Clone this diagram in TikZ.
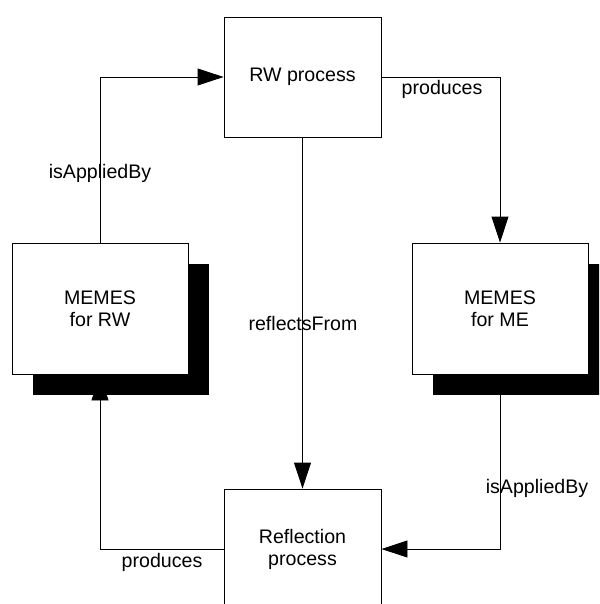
\documentclass[tikz,border=0pt]{standalone}
\usepackage{fontspec}
\setmainfont{Liberation Sans}
\usetikzlibrary{arrows.meta,shadows,backgrounds}

\tikzset{
  box/.style={draw=black, line width=0.9pt, fill=white, rectangle,
    align=center, inner sep=0pt,
    font=\fontsize{19.6}{22}\selectfont},
  procbox/.style={box, minimum width=157pt, minimum height=120pt},
  memebox/.style={box, minimum width=176pt, minimum height=131pt,
    drop shadow={shadow xshift=21pt, shadow yshift=-21pt,
      fill=black, opacity=1}},
  conn/.style={draw=black, line width=0.9pt,
    -{Triangle[length=26pt,width=17pt]}},
  lbl/.style={anchor=base, inner sep=0pt,
    font=\fontsize{19.6}{22}\selectfont}
}

\begin{document}
\begin{tikzpicture}[x=1pt, y=-1pt]
  \useasboundingbox (0,0) rectangle (599,604);
  \clip (0,0) rectangle (599,604);

  % process boxes
  \node[procbox] (rw)   at (302.5,77)  {RW process};
  \node[procbox] (refl) at (302.5,549) {Reflection\\process};

  % meme sets with their heavy shadows
  \node[memebox] (mrw) at (100,308.5) {MEMES\\for RW};
  \node[memebox] (mme) at (500,308.5) {MEMES\\for ME};

  % connectors run behind the boxes and shadows
  \begin{scope}[on background layer]
    \draw[conn] (mrw.north) |- (rw.west);
    \draw[conn] (rw.east) -| (mme.north);
    \draw[conn] (rw.south) -- (refl.north);
    \draw[conn] (refl.west) -| (mrw.south);
    \draw[conn] (mme.south) |- (refl.east);
  \end{scope}

  % relation labels
  \node[lbl] (l1) at (100,178) {isAppliedBy};
  \node[lbl] (l2) at (442,95)  {produces};
  \node[lbl] (l3) at (303,330) {reflectsFrom};
  \node[lbl] (l4) at (162,567) {produces};
  \node[lbl] (l5) at (537,493) {isAppliedBy};
\end{tikzpicture}
\end{document}
